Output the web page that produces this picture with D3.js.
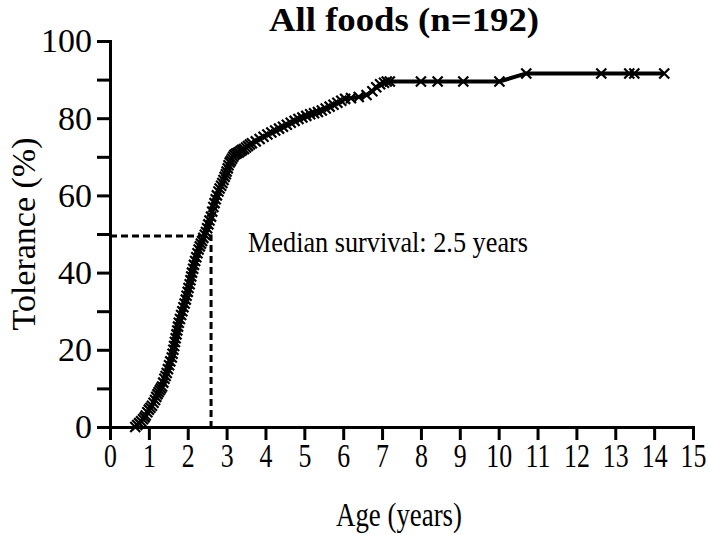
<!DOCTYPE html>
<html>
<head>
<meta charset="utf-8">
<script src="https://cdn.jsdelivr.net/npm/d3@7"></script>
<style>
    body { margin: 0; background: #fff; }
    svg text { font-family: "Liberation Serif", "Times New Roman", Times, serif; fill: #000; }
    .axis path, .axis line { stroke: #000; stroke-width: 3px; }
    .axis text { font-size: 34px; }
</style>
</head>
<body>
<div id="chart"></div>
<script>

// age (years) at each event / censor tick
let ages = [0.65, 0.70, 0.75, 0.80, 0.85, 0.89, 0.92, 0.96, 1.00, 1.04,
    1.08, 1.12, 1.16, 1.19, 1.22, 1.25, 1.28, 1.31, 1.34, 1.37,
    1.40, 1.43, 1.46, 1.49, 1.52, 1.55, 1.59, 1.61, 1.63, 1.65,
    1.67, 1.69, 1.71, 1.73, 1.75, 1.77, 1.80, 1.83, 1.86, 1.89,
    1.92, 1.95, 1.97, 2.00, 2.02, 2.05, 2.07, 2.09, 2.11, 2.14,
    2.16, 2.19, 2.22, 2.25, 2.28, 2.31, 2.34, 2.37, 2.40, 2.44,
    2.47, 2.50, 2.53, 2.56, 2.60, 2.63, 2.66, 2.69, 2.72, 2.75,
    2.79, 2.82, 2.86, 2.89, 2.92, 2.95, 2.98, 3.00, 3.03, 3.05,
    3.08, 3.11, 3.14, 3.17, 3.20, 3.24, 3.28, 3.32, 3.36, 3.40,
    3.45, 3.50, 3.55, 3.60, 3.65, 3.75, 3.85, 3.95, 4.05, 4.15,
    4.25, 4.35, 4.45, 4.55, 4.65, 4.75, 4.85, 4.95, 5.05, 5.15,
    5.25, 5.35, 5.45, 5.55, 5.65, 5.75, 5.85, 5.95, 6.05, 6.2,
    6.4, 6.6, 6.75, 6.85, 6.95, 7.05, 7.12, 7.2, 8.0, 8.43,
    9.09, 10.02, 10.71, 12.64, 13.36, 13.49, 14.26];

// tolerance (%) at those ages
let tolerance = [0, 0.5, 1, 1.5, 2, 2.5, 3, 3.8, 4.5, 5,
    5.5, 6.3, 7, 7.8, 8.5, 9, 9.5, 10, 10.5, 11.5,
    12.5, 13.2, 14, 15, 16, 17, 18, 19, 20, 21,
    22, 23, 24, 25, 26, 27, 28, 29, 30, 31,
    32, 33, 34, 35, 36, 37, 38, 39, 40, 41,
    42, 43, 44, 45, 46, 46.8, 47.5, 48.2, 49, 49.8,
    50.5, 51.5, 52.5, 53.5, 54.5, 55.8, 57, 58, 59, 60,
    61, 61.8, 62.5, 63.2, 64, 64.8, 65.5, 66.2, 67, 67.8,
    68.5, 69, 69.5, 70, 70.5, 70.8, 71, 71.2, 71.5, 71.8,
    72, 72.4, 72.8, 73.2, 73.5, 74, 74.6, 75.2, 75.8, 76.3,
    76.8, 77.3, 77.8, 78.3, 78.8, 79.3, 79.8, 80.2, 80.6, 81,
    81.3, 81.6, 82, 82.5, 83, 83.5, 84, 84.5, 85, 85.2,
    85.5, 86, 87, 88, 88.8, 89.2, 89.5, 89.5, 89.5, 89.5,
    89.5, 89.5, 91.6, 91.6, 91.6, 91.6, 91.6];

let xTicks = d3.range(0, 16);
let yTicks = d3.range(0, 101, 10);
let yLabels = [0, 20, 40, 60, 80, 100];

let medianAge = 2.6;
let medianTol = 49.5;

let width = 709, height = 535;
let margin = {top: 41, right: 16, bottom: 108, left: 110};

let svg = d3.select("#chart").append("svg")
    .attr("width", width)
    .attr("height", height);

let x = d3.scaleLinear().domain([0, 15]).range([margin.left, width - margin.right]);
let y = d3.scaleLinear().domain([0, 100]).range([height - margin.bottom, margin.top]);

// title
svg.append("text")
    .attr("x", 404)
    .attr("y", 31)
    .attr("text-anchor", "middle")
    .attr("textLength", 270)
    .attr("lengthAdjust", "spacingAndGlyphs")
    .style("font-size", "34px")
    .style("font-weight", "bold")
    .text("All foods (n=192)");

// median lines
svg.append("path")
    .attr("d", `M${x(0)},${y(medianTol)}H${x(medianAge)}V${y(0)}`)
    .attr("fill", "none")
    .attr("stroke", "#000")
    .attr("stroke-width", 3)
    .attr("stroke-dasharray", "7,4");

svg.append("text")
    .attr("x", 248)
    .attr("y", 252)
    .attr("textLength", 280)
    .attr("lengthAdjust", "spacingAndGlyphs")
    .style("font-size", "29px")
    .text("Median survival: 2.5 years");

// axes
let xAxis = svg.append("g")
    .attr("class", "axis")
    .attr("transform", `translate(0,${y(0)})`)
    .call(d3.axisBottom(x).tickValues(xTicks).tickSize(13).tickSizeOuter(0).tickPadding(3));

// x labels are drawn narrower than the y ones in the original
xAxis.selectAll(".tick text")
    .attr("transform", "scale(0.76,1)");

let yAxis = svg.append("g")
    .attr("class", "axis")
    .attr("transform", `translate(${x(0)},0)`)
    .call(d3.axisLeft(y).tickValues(yTicks).tickSize(13).tickSizeOuter(0).tickPadding(5)
        .tickFormat(d => yLabels.includes(d) ? d : ""));

xAxis.attr("font-family", null).attr("font-size", null);
yAxis.attr("font-family", null).attr("font-size", null);
svg.selectAll(".axis .domain").attr("stroke-linecap", "square");

// curve
let pts = ages.map((a, i) => [a, tolerance[i]]);

svg.append("path")
    .datum(pts)
    .attr("fill", "none")
    .attr("stroke", "#000")
    .attr("stroke-width", 4)
    .attr("d", d3.line().x(d => x(d[0])).y(d => y(d[1])));

svg.selectAll(".mark")
    .data(pts)
    .enter().append("path")
    .attr("class", "mark")
    .attr("transform", d => `translate(${x(d[0])},${y(d[1])})`)
    .attr("d", "M-5,-5L5,5M-5,5L5,-5")
    .attr("stroke", "#000")
    .attr("stroke-width", 2.2);

// axis titles
svg.append("text")
    .attr("x", 399)
    .attr("y", 526)
    .attr("text-anchor", "middle")
    .attr("textLength", 126)
    .attr("lengthAdjust", "spacingAndGlyphs")
    .style("font-size", "33px")
    .text("Age (years)");

svg.append("text")
    .attr("transform", `translate(35,${y(50)}) rotate(-90)`)
    .attr("text-anchor", "middle")
    .style("font-size", "34px")
    .text("Tolerance (%)");

</script>
</body>
</html>
